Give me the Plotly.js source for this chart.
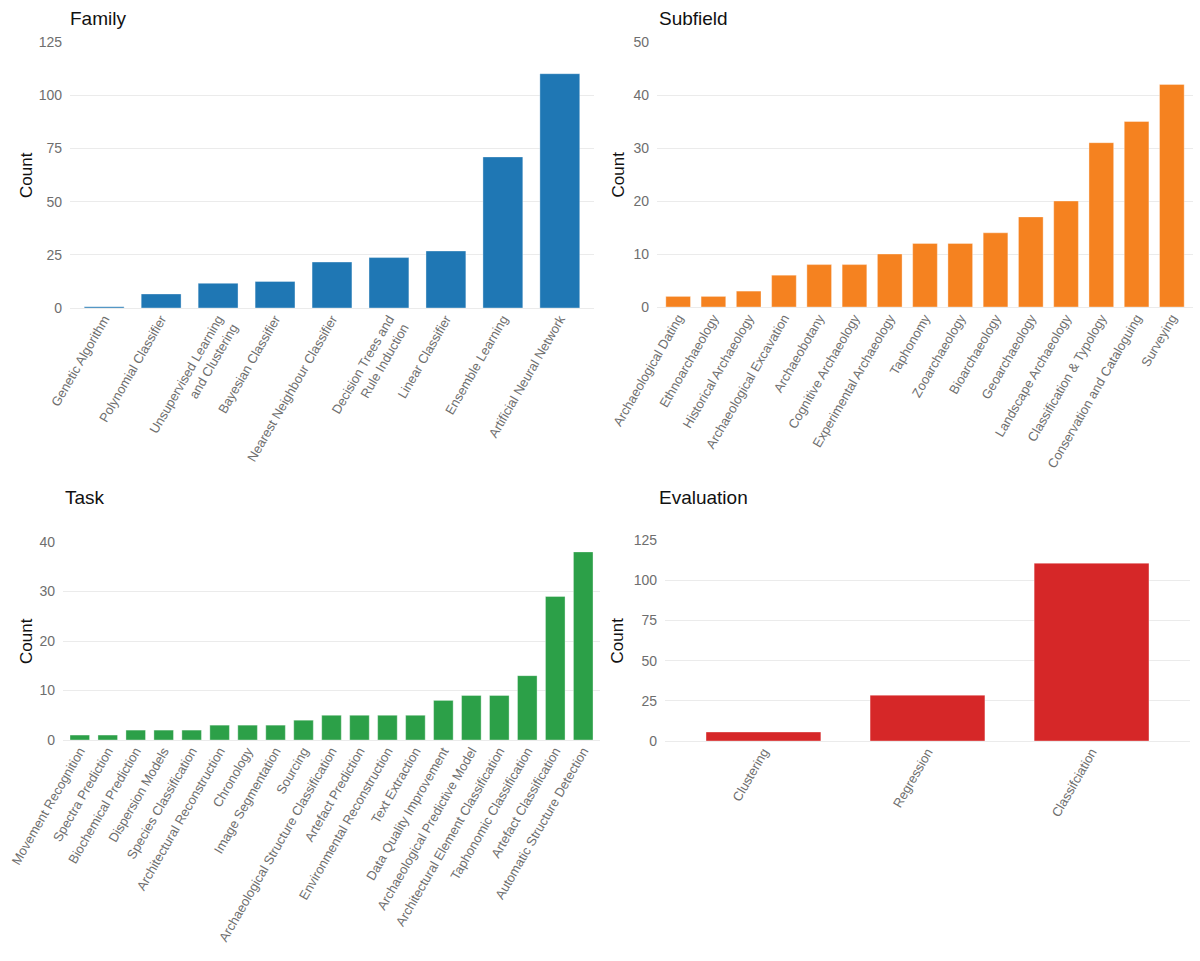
<!DOCTYPE html>
<html>
<head>
<meta charset="utf-8">
<script src="https://cdn.plot.ly/plotly-3.0.1.min.js"></script>
<style>
  html, body { margin: 0; padding: 0; background: #fff; }
  #chart { width: 1200px; height: 961px; }
</style>
</head>
<body>
<div id="chart"></div>
<script>
// --- data ---
const familyLabels = ['Genetic Algorithm', 'Polynomial Classifier', 'Unsupervised Learning<br>and Clustering',
  'Bayesian Classifier', 'Nearest Neighbour Classifier', 'Decision Trees and<br>Rule Induction',
  'Linear Classifier', 'Ensemble Learning', 'Artificial Neural Network'];
const familyCounts = [0.6, 6.6, 11.6, 12.5, 21.6, 23.7, 26.8, 71.0, 110.1];

const subfieldLabels = ['Archaeological Dating', 'Ethnoarchaeology', 'Historical Archaeology',
  'Archaeological Excavation', 'Archaeobotany', 'Cognitive Archaeology', 'Experimental Archaeology',
  'Taphonomy', 'Zooarchaeology', 'Bioarchaeology', 'Geoarchaeology', 'Landscape Archaeology',
  'Classification & Typology', 'Conservation and Cataloguing', 'Surveying'];
const subfieldCounts = [2, 2, 3, 6, 8, 8, 10, 12, 12, 14, 17, 20, 31, 35, 42];

const taskLabels = ['Movement Recognition', 'Spectra Prediction', 'Biochemical Prediction',
  'Dispersion Models', 'Species Classification', 'Architectural Reconstruction', 'Chronology',
  'Image Segmentation', 'Sourcing', 'Archaeological Structure Classification', 'Artefact Prediction',
  'Environmental Reconstruction', 'Text Extraction', 'Data Quality Improvement',
  'Archaeological Predictive Model', 'Architectural Element Classification',
  'Taphonomic Classification', 'Artefact Classification', 'Automatic Structure Detection'];
const taskCounts = [1, 1, 2, 2, 2, 3, 3, 3, 4, 5, 5, 5, 5, 8, 9, 9, 13, 29, 38];

const evalLabels = ['Clustering', 'Regression', 'Classifciation'];
const evalCounts = [5.6, 28.5, 110.6];

// --- panels ---
const W = 1200, H = 961;
const px = v => v / W;
const py = v => 1 - v / H;

const panels = [
  { title: 'Family', labels: familyLabels, values: familyCounts, color: '#1f77b4',
    x: [70, 594], y: [308, 42], yTop: 125, dtick: 25, titlePos: [68, 19], countX: 26 },
  { title: 'Subfield', labels: subfieldLabels, values: subfieldCounts, color: '#f58220',
    x: [657, 1193], y: [307, 42], yTop: 50, dtick: 10, titlePos: [657, 19], countX: 618 },
  { title: 'Task', labels: taskLabels, values: taskCounts, color: '#2ca048',
    x: [63, 600], y: [740, 542], yTop: 40, dtick: 10, titlePos: [63, 498], countX: 26 },
  { title: 'Evaluation', labels: evalLabels, values: evalCounts, color: '#d62728',
    x: [665, 1190], y: [741, 540], yTop: 125, dtick: 25, titlePos: [657, 498], countX: 617 }
];

const font = 'Arial, "Liberation Sans", sans-serif';
const traces = [];
const layout = {
  width: W, height: H,
  margin: { t: 0, r: 0, b: 0, l: 0 },
  paper_bgcolor: '#fff', plot_bgcolor: '#fff',
  font: { family: font, color: '#222' },
  showlegend: false,
  bargap: 0.3,
  annotations: []
};

panels.forEach((p, i) => {
  const n = i + 1;
  const sfx = n === 1 ? '' : String(n);

  traces.push({
    type: 'bar',
    x: p.labels,
    y: p.values,
    xaxis: 'x' + sfx,
    yaxis: 'y' + sfx,
    marker: { color: p.color, line: { color: 'rgba(255,255,255,0.6)', width: 0.6 } },
    hoverinfo: 'x+y'
  });

  layout['xaxis' + sfx] = {
    domain: [px(p.x[0]), px(p.x[1])],
    anchor: 'y' + sfx,
    type: 'category',
    range: [-0.6, p.labels.length - 0.4],
    tickangle: -60,
    tickfont: { size: 13, color: '#6e6e6e', family: font },
    showgrid: false, zeroline: false, showline: false, ticks: '',
    fixedrange: true
  };
  layout['yaxis' + sfx] = {
    domain: [py(p.y[0]), py(p.y[1])],
    anchor: 'x' + sfx,
    range: [0, p.yTop],
    dtick: p.dtick,
    tickfont: { size: 14, color: '#6e6e6e', family: font },
    gridcolor: '#ebebeb', gridwidth: 1,
    zeroline: true, zerolinecolor: '#ebebeb', zerolinewidth: 1,
    showline: false, ticks: '', ticklabelstandoff: 7,
    fixedrange: true
  };

  // panel title
  layout.annotations.push({
    text: p.title, xref: 'paper', yref: 'paper',
    x: px(p.titlePos[0]), y: py(p.titlePos[1]),
    xanchor: 'left', yanchor: 'middle', showarrow: false,
    font: { size: 19, color: '#111', family: font }
  });
  // y axis title
  layout.annotations.push({
    text: 'Count', xref: 'paper', yref: 'paper',
    x: px(p.countX), y: py((p.y[0] + p.y[1]) / 2),
    xanchor: 'center', yanchor: 'middle', textangle: -90, showarrow: false,
    font: { size: 17, color: '#111', family: font }
  });
});

Plotly.newPlot('chart', traces, layout, { displayModeBar: false, staticPlot: true });
</script>
</body>
</html>
